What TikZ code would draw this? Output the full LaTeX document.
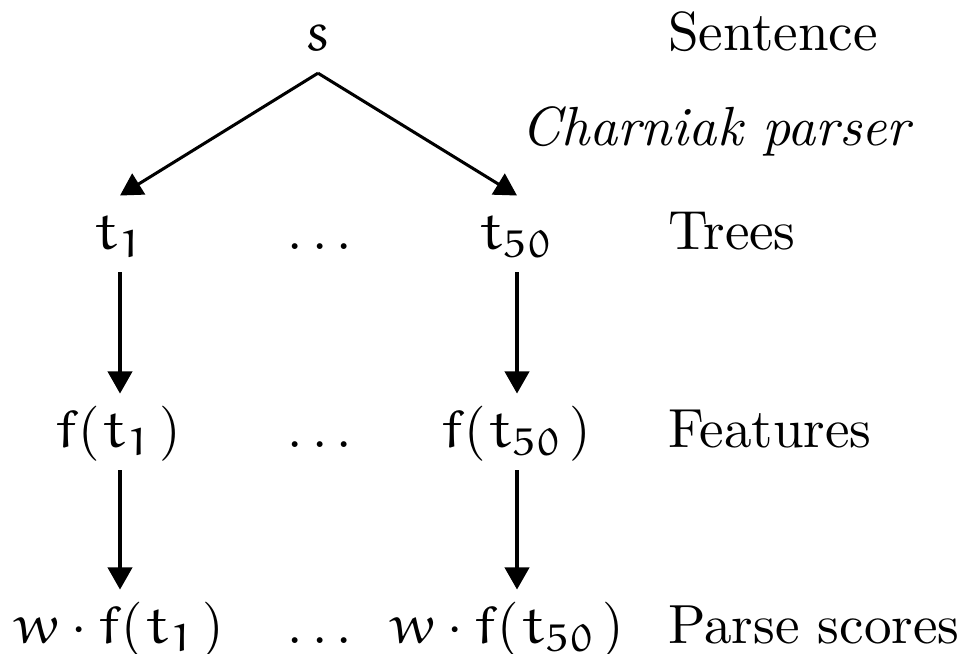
\documentclass[tikz,border=0pt]{standalone}
\usetikzlibrary{arrows.meta}
\DeclareMathAlphabet{\mathe}{U}{eur}{m}{n}
\newcommand{\ev}[1]{\mathe{#1}}
\newcommand{\elp}{\mathopen{(}\mkern1mu}
\newcommand{\erp}{\mkern2mu\mathclose{)}}
\begin{document}
\begin{tikzpicture}[x=0.1814pt,y=-0.1814pt,
  col/.style={anchor=base,inner sep=0pt,text height=9.5pt,text depth=4pt},
  lbl/.style={anchor=base west,inner sep=0pt},
  arr/.style={line width=0.55pt,-{Triangle[length=4pt,width=4.4pt]}}]
\useasboundingbox (0,0) rectangle (962,653);
% row 1
\node[col] (s) at (318,50) {$\ev{s}$};
\node[lbl] (lsent) at (667,50) {Sentence};
\node[lbl,anchor=base] (lparser) at (716,145) {\itshape Charniak parser};
% row 2
\node[col] (t1) at (120,249) {$\ev{t}_{\ev{1}}$};
\node[col] (d1) at (320,249) {$\ldots$};
\node[col] (t50) at (517,249) {$\ev{t}_{\ev{50}}$};
\node[lbl] (ltrees) at (667,249) {Trees};
% row 3
\node[col] (ft1) at (118,447) {$\ev{f}\elp\ev{t}_{\ev{1}}\erp$};
\node[col] (d2) at (320,447) {$\ldots$};
\node[col] (ft50) at (516,447) {$\ev{f}\elp\ev{t}_{\ev{50}}\erp$};
\node[lbl] (lfeat) at (667,447) {Features};
% row 4
\node[col] (wt1) at (119,643) {$\ev{w}\cdot \ev{f}\elp\ev{t}_{\ev{1}}\erp$};
\node[col] (d3) at (320,643) {$\ldots$};
\node[col] (wt50) at (507,643) {$\ev{w}\cdot \ev{f}\elp\ev{t}_{\ev{50}}\erp$};
\node[lbl] (lscore) at (667,643) {Parse scores};
% connectors
\draw[arr] (s.south) -- (t1.north);
\draw[arr] (s.south) -- (t50.north);
\draw[arr] (t1.south) -- (t1.south |- ft1.north);
\draw[arr] (t1.south |- ft1.south) -- (t1.south |- wt1.north);
\draw[arr] (t50.south) -- (t50.south |- ft50.north);
\draw[arr] (t50.south |- ft50.south) -- (t50.south |- wt50.north);
\end{tikzpicture}
\end{document}
